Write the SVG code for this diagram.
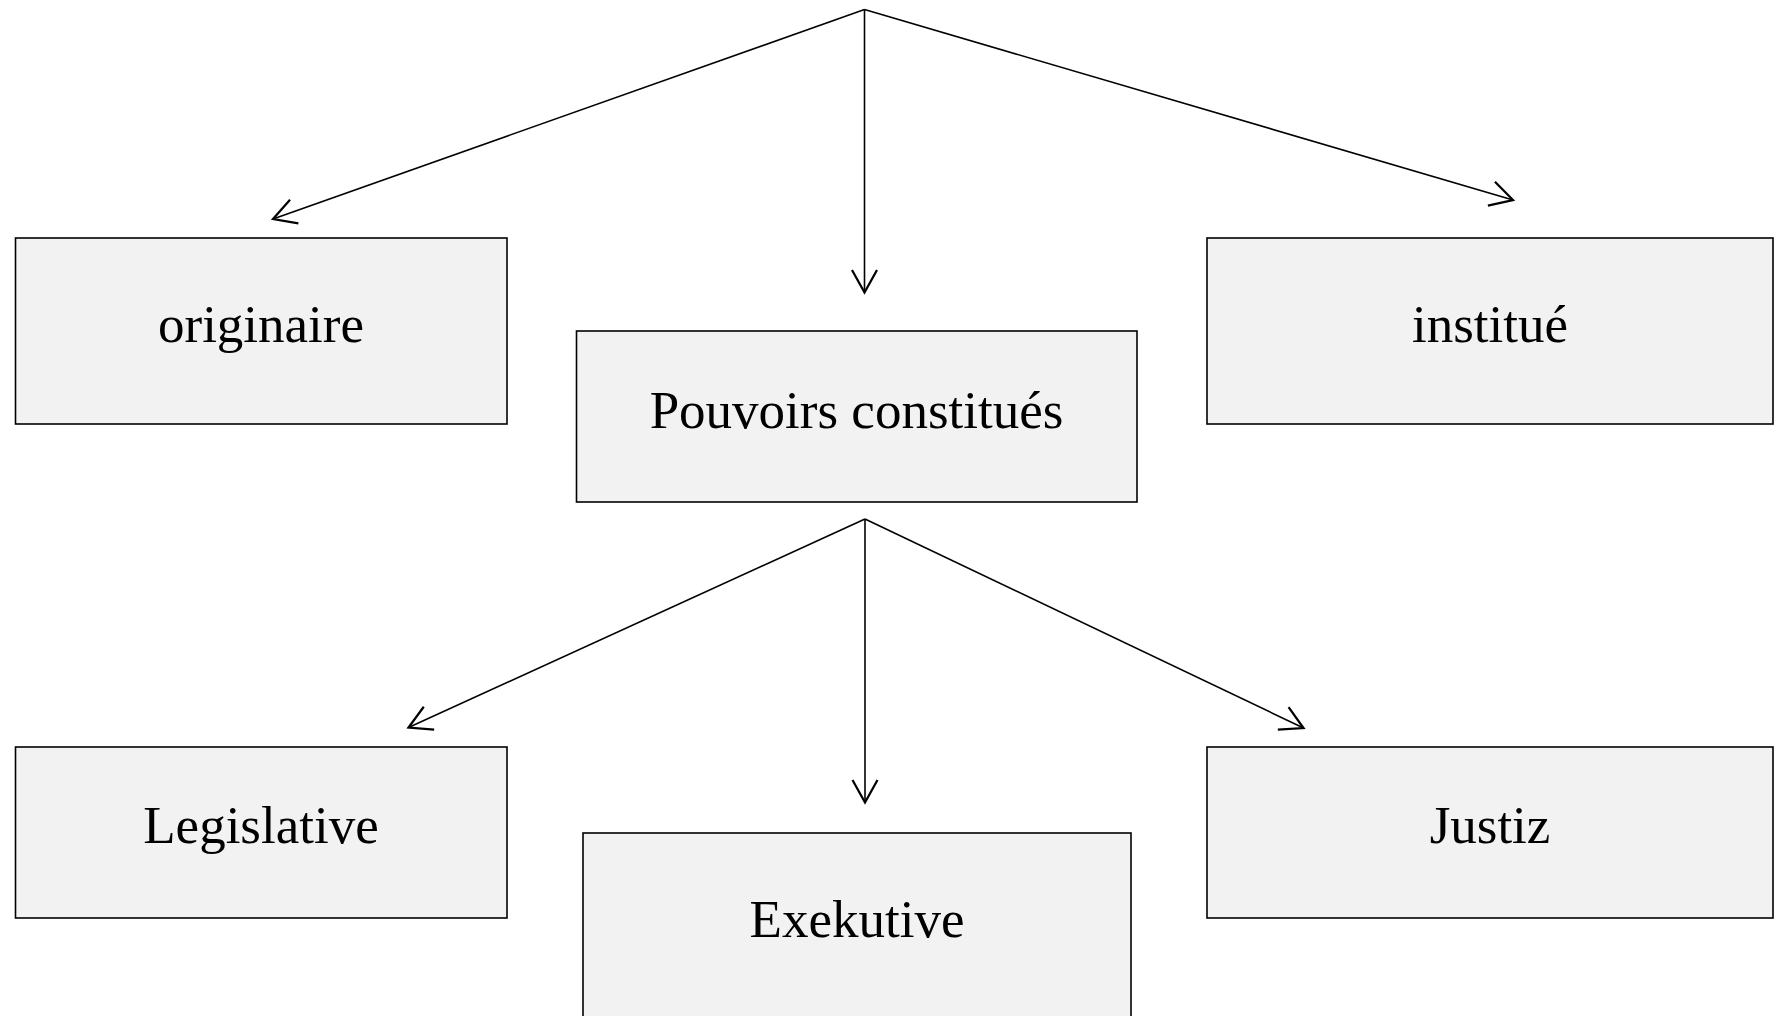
<svg xmlns="http://www.w3.org/2000/svg" width="1774" height="1016" viewBox="0 0 1774 1016">
<style>
.box{fill:#f2f2f2;stroke:#000;stroke-width:1.6}
.lbl{font-family:"Liberation Serif","Times New Roman",serif;font-size:53px;fill:#000;text-anchor:middle}
.con{fill:none;stroke:#000;stroke-width:1.6;marker-end:url(#arr)}
</style>
<defs>
<marker id="arr" markerUnits="userSpaceOnUse" markerWidth="30" markerHeight="30" viewBox="-20 -12 22 24" refX="0" refY="0" orient="auto" overflow="visible">
<path d="M-18,-10 L0,0 L-18,10" fill="none" stroke="#000" stroke-width="1.8"/>
</marker>
</defs>
<rect width="1774" height="1016" fill="#fff"/>
<g id="connectors">
<line class="con" x1="864.5" y1="9.5" x2="273" y2="219"/>
<line class="con" x1="864.5" y1="9.5" x2="864.5" y2="292.5"/>
<line class="con" x1="864.5" y1="9.5" x2="1513" y2="200"/>
<line class="con" x1="865" y1="519" x2="408.5" y2="727.5"/>
<line class="con" x1="865" y1="519" x2="865" y2="802.5"/>
<line class="con" x1="865" y1="519" x2="1303.5" y2="728"/>
</g>
<g id="originaire">
<rect class="box" x="15.5" y="238" width="491.5" height="186"/>
<text class="lbl" x="261" y="341.5">originaire</text>
</g>
<g id="pouvoirs">
<rect class="box" x="576.5" y="331" width="560.5" height="171"/>
<text class="lbl" x="856.5" y="427.5">Pouvoirs constitués</text>
</g>
<g id="institue">
<rect class="box" x="1207" y="238" width="566" height="186"/>
<text class="lbl" x="1490" y="341.5">institué</text>
</g>
<g id="legislative">
<rect class="box" x="15.5" y="747" width="491.5" height="171"/>
<text class="lbl" x="261" y="842.5">Legislative</text>
</g>
<g id="exekutive">
<rect class="box" x="583" y="833" width="548" height="200"/>
<text class="lbl" x="857" y="936.5">Exekutive</text>
</g>
<g id="justiz">
<rect class="box" x="1207" y="747" width="566" height="171"/>
<text class="lbl" x="1490" y="842.5">Justiz</text>
</g>
</svg>
